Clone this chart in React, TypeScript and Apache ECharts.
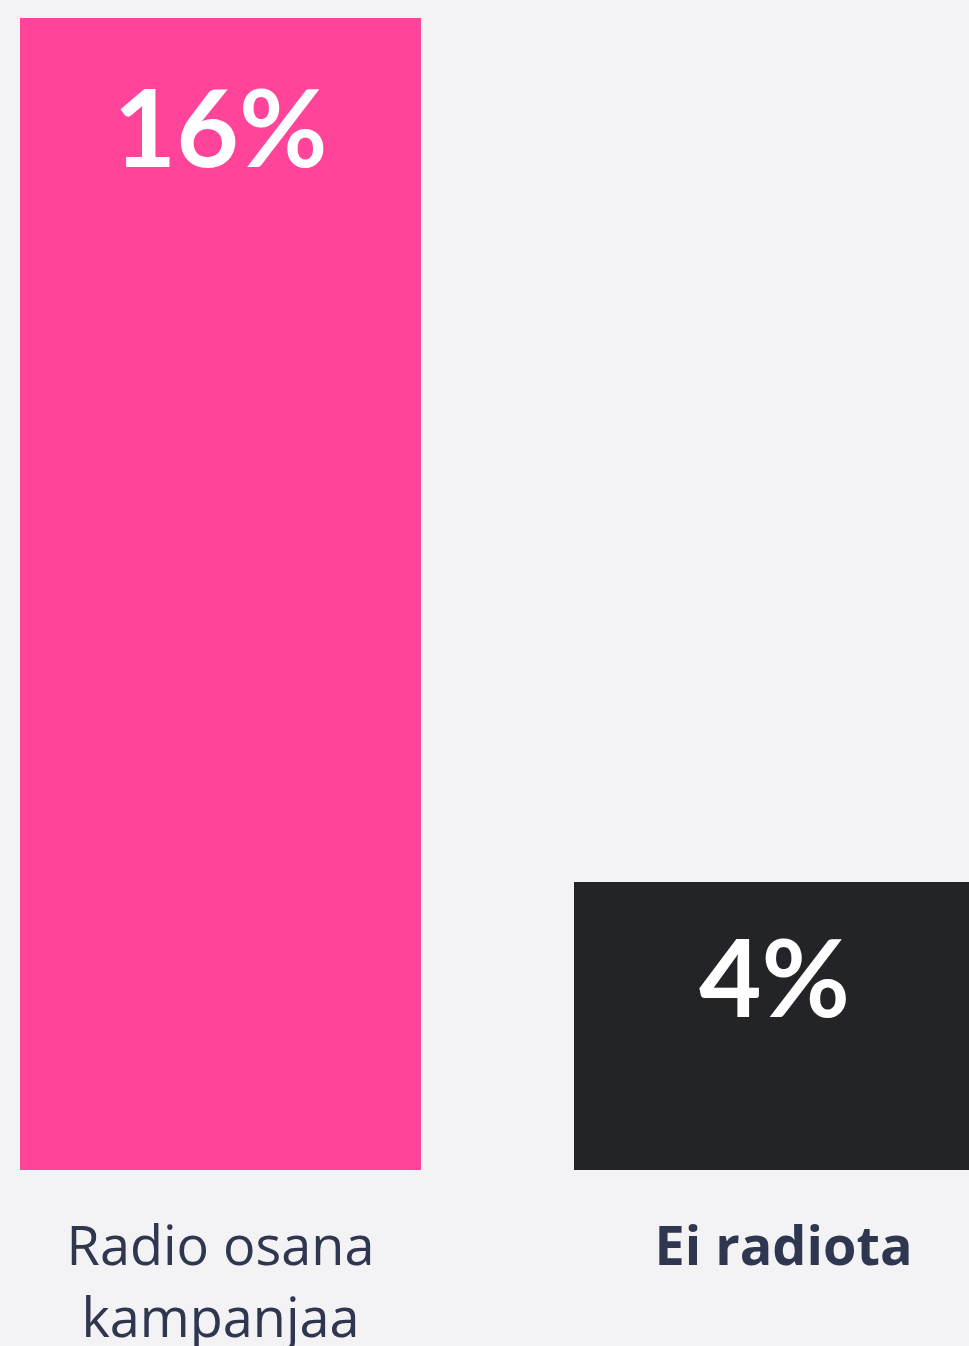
import React, { useEffect, useRef } from "react";
import * as echarts from "echarts";

const categories = ["Radio osana\nkampanjaa", "Ei radiota"];
const values = [16, 4];
const barColors = ["#ff4499", "#232427"];
const labelDistances = [52, 38];

export default function App() {
  const ref = useRef<HTMLDivElement>(null);
  useEffect(() => {
    if (!ref.current) return;
    const chart = echarts.init(ref.current, null, { renderer: "svg" });
    chart.setOption({
      animation: false,
      backgroundColor: "#f3f3f5",
      grid: {
        left: -56.5,
        width: 1108,
        top: 18,
        bottom: 176,
        containLabel: false,
        outerBoundsMode: "none",
      },
      xAxis: {
        type: "category",
        data: categories.map((c, i) => ({
          value: c,
          textStyle: i === 0
            ? { fontWeight: 500 }
            : { fontWeight: "bold", padding: [0, 0, 0, 18] },
        })),
        axisLine: { show: false },
        axisTick: { show: false },
        axisLabel: {
          color: "#2f3650",
          fontFamily: "Open Sans",
          fontSize: 54,
          lineHeight: 72,
          margin: 38,
          interval: 0,
        },
      },
      yAxis: {
        type: "value",
        min: 0,
        max: 16,
        show: false,
        splitLine: { show: false },
      },
      series: [
        {
          type: "bar",
          barWidth: 401,
          data: values.map((v, i) => ({
            value: v,
            itemStyle: { color: barColors[i] },
            label: { distance: labelDistances[i] },
          })),
          label: {
            show: true,
            position: "insideTop",
            formatter: "{c}%",
            color: "#ffffff",
            fontFamily: "Lato",
            fontWeight: "bold",
            fontSize: 108,
            lineHeight: 110,
          },
        },
      ],
    });
    return () => chart.dispose();
  }, []);
  return (
    <div
      ref={ref}
      style={{ position: "fixed", left: 0, top: 0, width: 969, height: 1346 }}
    />
  );
}
